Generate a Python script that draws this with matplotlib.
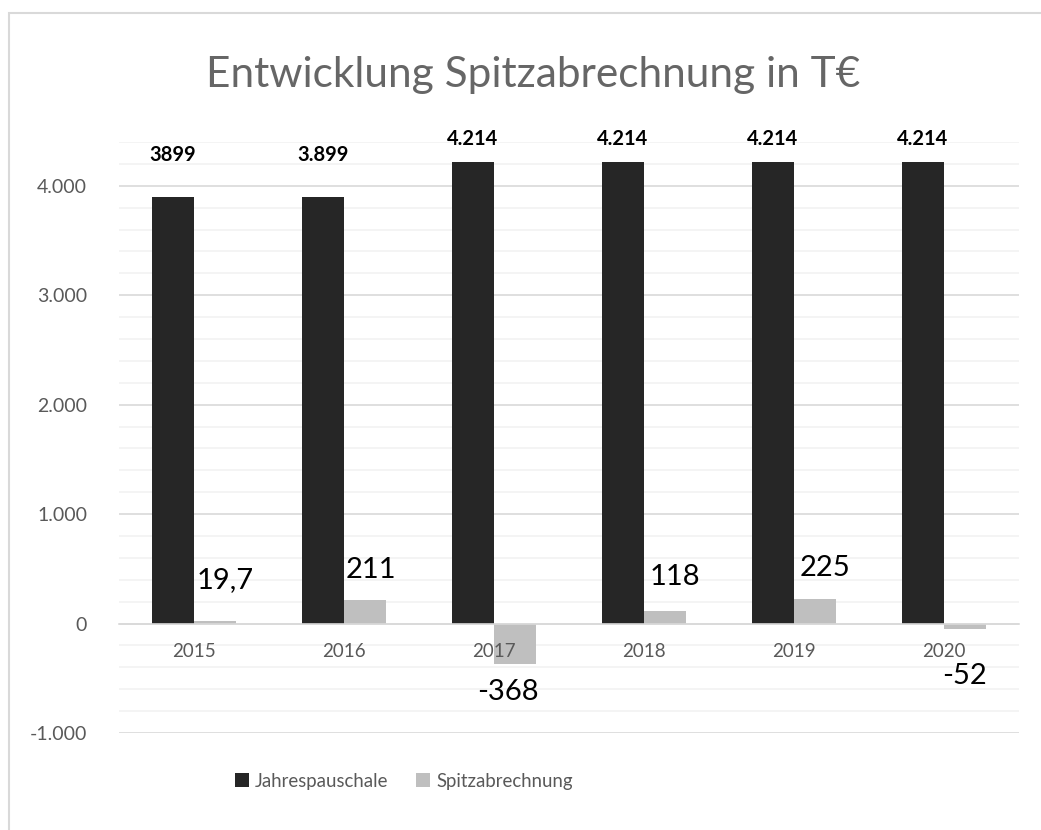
import numpy as np
import matplotlib
matplotlib.use("Agg")
from matplotlib import pyplot as plt
from matplotlib.patches import Rectangle, Patch

years = ["2015", "2016", "2017", "2018", "2019", "2020"]
jahres = [3899, 3899, 4214, 4214, 4214, 4214]
spitze = [19.7, 211, -368, 118, 225, -52]
jahres_labels = ["3899", "3.899", "4.214", "4.214", "4.214", "4.214"]
spitze_labels = ["19,7", "211", "-368", "118", "225", "-52"]
yticks = [-1000, 0, 1000, 2000, 3000, 4000]
ytick_labels = ["-1.000", "0", "1.000", "2.000", "3.000", "4.000"]

dark = "#262626"
light = "#bfbfbf"
grey_text = "#595959"

plt.rcParams['font.family'] = ['Lato', 'DejaVu Sans']

fig = plt.figure(figsize=(10.41, 8.30), dpi=100)
fig.patches.append(Rectangle((9 / 1041, -0.1), 1.2, 1.1 - 13 / 830,
                             transform=fig.transFigure, fill=False,
                             edgecolor="#d9d9d9", linewidth=1.5))

ax = fig.add_axes([119 / 1041, 1 - 733 / 830, 900 / 1041, (733 - 142) / 830])
ax.set_axisbelow(True)

x = np.arange(len(years))
w = 0.28
ax.bar(x - w / 2, jahres, w, color=dark, zorder=2)
ax.bar(x + w / 2, spitze, w, color=light, zorder=2)

ax.set_xlim(-0.5, len(years) - 0.5)
ax.set_ylim(-1000, 4400)

ax.set_yticks(yticks)
ax.set_yticklabels(ytick_labels)
ax.set_yticks(np.arange(-1000, 4401, 200), minor=True)
ax.grid(which="minor", axis="y", color="#f2f2f2", linewidth=1.2)
ax.grid(which="major", axis="y", color="#d9d9d9", linewidth=1.2)

ax.set_xticks(x)
ax.set_xticklabels(years)
ax.xaxis.set_zorder(3)  # year labels sit on top of the bars
ax.spines['bottom'].set_position(('data', 0))
ax.spines['bottom'].set_color("#d9d9d9")
ax.spines['bottom'].set_linewidth(1.2)
for s in ['top', 'right', 'left']:
    ax.spines[s].set_visible(False)
ax.tick_params(axis='both', which='both', length=0, colors=grey_text, labelsize=14)
ax.tick_params(axis='x', labelsize=13.5, pad=14)
ax.tick_params(axis='y', pad=23)

# data labels, positioned like in the original sheet
j_off = [30, 30, 17, 17, 17, 17]
for i in range(len(years)):
    ax.annotate(jahres_labels[i], (x[i] - w / 2, jahres[i]), xytext=(0, j_off[i]),
                textcoords="offset points", ha="center", va="center",
                fontsize=14.5, fontweight="bold", color="black")

s_off = [(7, 30), (4, 22), (-5, -20), (7, 24), (7, 22), (0, -34)]
for i in range(len(years)):
    dx, dy = s_off[i]
    ax.annotate(spitze_labels[i], (x[i] + w / 2, spitze[i]), xytext=(dx, dy),
                textcoords="offset points", ha="center", va="center",
                fontsize=21, color="black")

fig.text(533 / 1041, 1 - 75 / 830, "Entwicklung Spitzabrechnung in T€", ha="center",
         va="center", fontsize=30.5, color="#666666")

handles = [Patch(facecolor=dark), Patch(facecolor=light)]
fig.legend(handles, ["Jahrespauschale", "Spitzabrechnung"], loc="center",
           bbox_to_anchor=(404 / 1041, 1 - 781 / 830), ncol=2, frameon=False,
           fontsize=13.4, handlelength=0.75, handleheight=0.75, handletextpad=0.3,
           columnspacing=1.5, labelcolor=grey_text)

fig.savefig("out.png", dpi=100)
